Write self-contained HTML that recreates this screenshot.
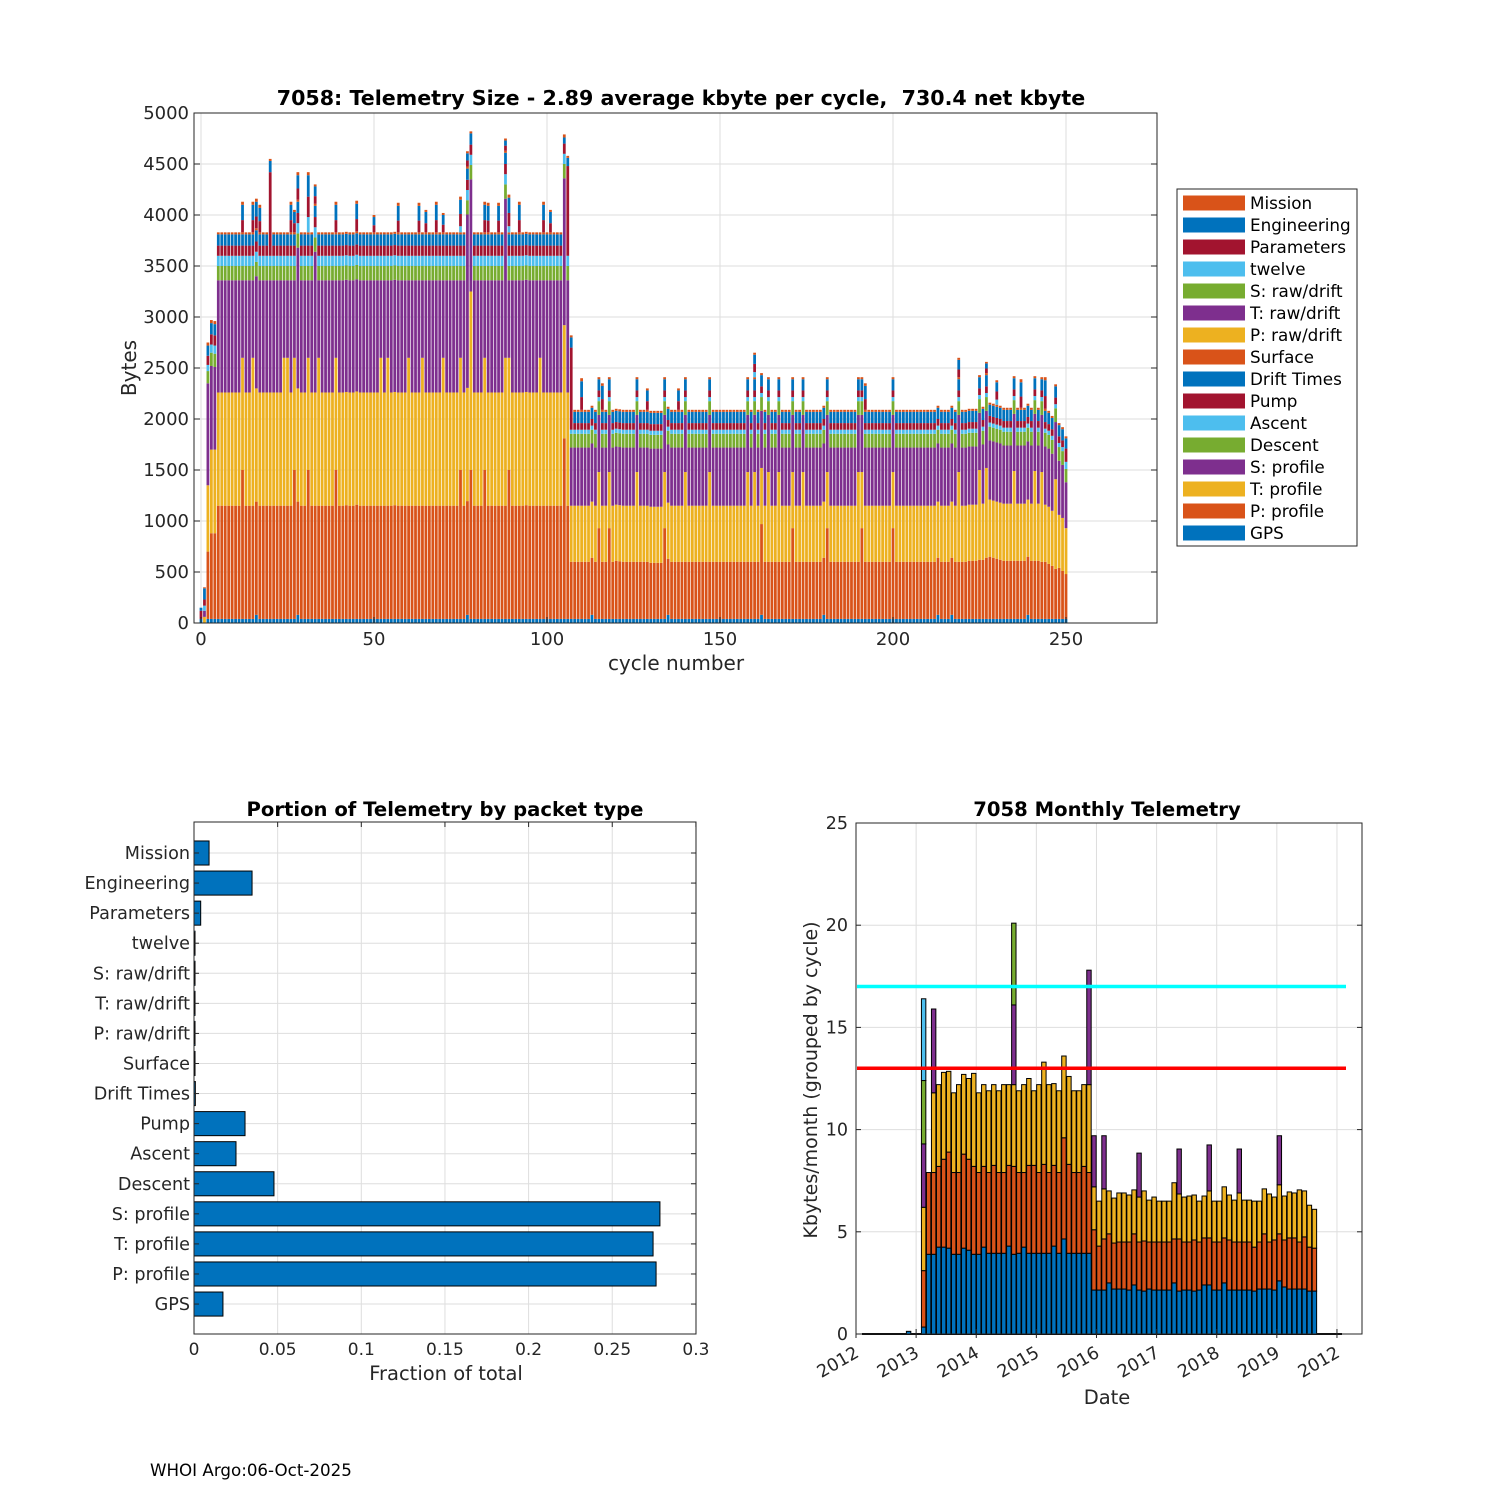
<!DOCTYPE html>
<html><head><meta charset="utf-8"><title>7058 Telemetry</title>
<style>
html,body{margin:0;padding:0;background:#fff;}
svg{display:block;font-family:"DejaVu Sans","Liberation Sans",sans-serif;}
</style></head>
<body>
<svg id="chart" width="1500" height="1500" viewBox="0 0 1500 1500" xmlns="http://www.w3.org/2000/svg">
<rect x="0" y="0" width="1500" height="1500" fill="#ffffff"/>
<text x="150" y="1476" font-size="16.7" fill="#000">WHOI Argo:06-Oct-2025</text>
</svg>
<script>
// ---------------- TOP CHART DATA (cycles 0..250) ----------------
const gpsB = [
40,0,40,40,40,40,40,40,40,40,
40,40,40,40,40,40,80,40,40,40,
40,40,40,40,40,40,40,40,80,40,
40,40,40,40,40,40,40,40,40,40,
40,40,40,40,40,40,40,40,40,40,
40,40,40,40,40,40,40,40,40,40,
40,40,40,40,40,40,40,40,40,40,
40,40,40,40,40,40,40,80,40,40,
40,40,40,40,40,40,40,40,40,40,
40,40,40,40,40,40,40,40,40,40,
40,40,40,40,40,40,40,40,40,40,
40,40,40,80,40,40,40,40,40,40,
40,40,40,40,40,40,40,40,40,40,
40,40,40,40,40,80,40,40,40,40,
40,40,40,40,40,40,40,40,40,40,
40,40,40,40,40,40,40,40,40,40,
40,40,80,40,40,40,40,40,40,40,
40,40,40,40,40,40,40,40,40,40,
80,40,40,40,40,40,40,40,40,40,
40,40,40,40,40,40,40,40,40,40,
40,40,40,40,40,40,40,40,40,40,
40,40,40,80,40,40,40,80,40,40,
40,40,40,40,40,40,40,40,40,40,
40,40,40,40,40,40,40,40,40,80,
40,40,40,40,40,40,40,40,40,40,
40];
const pProfB = [
0,0,660,840,840,1110,1110,1110,1110,1110,
1110,1110,1460,1110,1110,1110,1110,1110,1110,1110,
1110,1110,1110,1110,1110,1110,1110,1460,1110,1110,
1110,1460,1110,1110,1110,1110,1110,1110,1110,1460,
1110,1110,1115,1110,1110,1120,1110,1110,1110,1110,
1110,1110,1110,1110,1110,1110,1115,1110,1110,1110,
1110,1110,1110,1110,1110,1110,1110,1110,1110,1110,
1110,1110,1110,1110,1110,1460,1110,1115,1460,1110,
1110,1110,1460,1110,1110,1110,1110,1110,1110,1460,
1110,1110,1110,1110,1115,1110,1110,1110,1110,1110,
1110,1110,1110,1110,1110,1770,1110,560,560,560,
560,560,560,560,560,890,560,560,890,560,
570,565,560,560,560,560,560,560,560,560,
550,550,550,550,890,550,560,560,560,560,
560,560,560,560,560,560,560,560,560,560,
560,560,560,560,560,560,560,560,560,560,
560,560,890,560,560,560,560,560,560,560,
560,890,560,560,560,560,560,560,560,560,
560,890,560,560,560,560,560,560,560,560,
560,890,560,560,560,560,560,560,560,560,
890,560,560,560,560,560,560,560,560,560,
560,560,560,560,560,560,560,560,560,560,
560,560,570,570,570,580,580,600,610,600,
590,580,570,570,570,570,570,570,570,570,
570,570,570,560,560,540,520,490,500,470,
440];
const tProfB = [
0,60,650,820,820,1110,1110,1110,1110,1110,
1110,1110,1100,1110,1110,1450,1110,1110,1110,1110,
1110,1110,1110,1110,1450,1450,1110,1100,1110,1110,
1110,1100,1110,1110,1450,1110,1110,1110,1110,1100,
1110,1110,1110,1110,1110,1110,1110,1110,1110,1110,
1110,1110,1450,1110,1450,1110,1110,1110,1110,1110,
1450,1110,1110,1110,1450,1110,1110,1110,1110,1110,
1450,1110,1110,1110,1110,1100,1110,1110,1750,1110,
1110,1110,1100,1110,1110,1110,1110,1110,1450,1100,
1110,1110,1110,1110,1110,1110,1110,1110,1450,1110,
1110,1110,1110,1110,1110,1110,1110,550,550,550,
550,550,550,550,550,550,550,550,550,550,
550,550,550,550,550,550,880,550,550,550,
550,550,550,550,550,550,550,550,550,550,
880,550,550,550,550,550,550,880,550,550,
550,550,550,550,550,550,550,550,880,550,
880,550,550,550,880,550,550,880,550,550,
550,550,550,550,880,550,550,550,550,550,
550,550,550,550,550,550,550,550,550,550,
880,550,550,550,550,550,550,550,550,550,
550,550,550,550,550,550,550,550,550,550,
550,550,550,550,550,550,550,550,550,880,
550,550,550,550,550,880,550,880,560,560,
560,560,560,560,560,880,560,560,560,560,
560,880,560,880,560,560,540,880,520,520,
450];
const sProfB = [
0,60,1000,820,810,1100,1100,1100,1100,1100,
1100,1100,760,1100,1100,760,1100,1100,1100,1100,
1100,1100,1100,1100,760,760,1100,760,1380,1100,
1100,760,1100,1380,760,1100,1100,1100,1100,760,
1100,1100,1100,1100,1100,1100,1100,1100,1100,1100,
1100,1100,760,1100,760,1100,1100,1100,1100,1100,
760,1100,1100,1100,760,1100,1100,1100,1100,1100,
760,1100,1100,1100,1100,760,1100,1700,1100,1100,
1100,1100,760,1100,1100,1100,1100,1100,1560,760,
1100,1100,1100,1100,1100,1100,1100,1100,760,1100,
1100,1100,1100,1100,1100,1440,1100,570,570,570,
570,570,570,570,570,560,570,570,560,570,
570,570,570,570,570,570,560,570,570,570,
570,570,570,570,560,570,570,570,570,570,
560,570,570,570,570,570,570,560,570,570,
570,570,570,570,570,570,570,570,560,570,
560,570,560,570,560,570,570,560,570,570,
570,560,570,570,560,570,570,570,570,570,
570,560,570,570,570,570,570,570,570,570,
560,560,570,570,570,570,570,570,570,570,
560,570,570,570,570,570,570,570,570,570,
570,570,570,570,570,570,570,570,570,560,
570,570,570,570,570,560,580,560,580,580,
580,580,570,570,570,560,570,570,570,570,
570,560,570,560,570,570,560,560,530,520,
450];
const descentB = [
0,0,120,130,130,140,140,140,140,140,
140,140,140,140,140,140,140,140,140,140,
140,140,140,140,140,140,140,140,140,140,
140,140,140,140,140,140,140,140,140,140,
140,140,140,140,140,140,140,140,140,140,
140,140,140,140,140,140,140,140,140,140,
140,140,140,140,140,140,140,140,140,140,
140,140,140,140,140,140,140,140,140,140,
140,140,140,140,140,140,140,140,140,140,
140,140,140,140,140,140,140,140,140,140,
140,140,140,140,140,140,140,135,135,135,
135,135,135,135,135,135,135,135,135,135,
135,135,135,135,135,135,135,135,135,135,
135,135,135,135,135,135,135,135,135,135,
135,135,135,135,135,135,135,135,135,135,
135,135,135,135,135,135,135,135,135,135,
135,135,135,135,135,135,135,135,135,135,
135,135,135,135,135,135,135,135,135,135,
135,135,135,135,135,135,135,135,135,135,
135,135,135,135,135,135,135,135,135,135,
135,135,135,135,135,135,135,135,135,135,
135,135,135,135,135,135,135,135,135,135,
135,135,135,135,135,135,135,135,135,135,
135,135,135,135,135,135,135,135,135,135,
135,135,135,135,135,135,135,135,135,135,
130];
const ascentB = [
0,50,60,80,80,100,100,100,100,100,
100,100,100,100,100,100,100,100,100,100,
100,100,100,100,100,100,100,100,100,100,
100,100,100,100,100,100,100,100,100,100,
100,100,100,100,100,100,100,100,100,100,
100,100,100,100,100,100,100,100,100,100,
100,100,100,100,100,100,100,100,100,100,
100,100,100,100,100,100,100,100,100,100,
100,100,100,100,100,100,100,100,100,100,
100,100,100,100,100,100,100,100,100,100,
100,100,100,100,100,100,100,40,40,40,
40,40,40,40,40,40,40,40,40,40,
40,40,40,40,40,40,40,40,40,40,
40,40,40,40,40,40,40,40,40,40,
40,40,40,40,40,40,40,40,40,40,
40,40,40,40,40,40,40,40,40,40,
40,40,40,40,40,40,40,40,40,40,
40,40,40,40,40,40,40,40,40,40,
40,40,40,40,40,40,40,40,40,40,
40,40,40,40,40,40,40,40,40,40,
40,40,40,40,40,40,40,40,40,40,
40,40,40,40,40,40,40,40,40,40,
40,40,40,40,40,40,40,40,40,40,
40,40,40,40,40,40,40,40,40,40,
40,40,40,40,40,40,40,40,40,40,
70];
const pumpB = [
80,60,90,100,100,100,100,100,100,100,
100,100,100,100,100,100,100,100,100,100,
820,100,100,100,100,100,100,100,100,100,
100,100,100,100,100,100,100,100,100,100,
100,100,100,100,100,100,100,100,100,100,
100,100,100,100,100,100,100,100,100,100,
100,100,100,100,100,100,100,100,100,100,
100,100,100,100,100,100,100,100,100,100,
100,100,100,100,100,100,100,100,100,100,
100,100,100,100,100,100,100,100,100,100,
100,100,100,100,100,100,880,805,65,65,
65,65,65,65,65,65,65,65,65,65,
65,65,65,65,65,65,65,65,65,65,
65,65,65,65,65,65,65,65,65,65,
65,65,65,65,65,65,65,65,65,65,
65,65,65,65,65,65,65,65,65,65,
65,65,65,65,65,65,65,65,65,65,
65,65,65,65,65,65,65,65,65,65,
65,65,65,65,65,65,65,65,65,65,
65,65,65,65,65,65,65,65,65,65,
65,65,65,65,65,65,65,65,65,65,
65,65,65,65,65,65,65,65,65,65,
65,65,65,65,65,65,65,65,65,65,
65,65,65,65,65,65,65,65,65,65,
65,65,65,65,65,65,65,65,65,65,
130];
const driftB = [
30,110,100,110,110,110,110,110,110,110,
110,110,110,110,110,110,110,110,110,110,
110,110,110,110,110,110,110,110,110,110,
110,110,110,110,110,110,110,110,110,110,
110,110,110,110,110,110,110,110,110,110,
110,110,110,110,110,110,110,110,110,110,
110,110,110,110,110,110,110,110,110,110,
110,110,110,110,110,110,110,110,110,110,
110,110,110,110,110,110,110,110,110,110,
110,110,110,110,110,110,110,110,110,110,
110,110,110,110,110,60,80,100,110,110,
110,110,110,110,110,110,110,110,110,110,
110,110,110,110,110,110,110,110,110,110,
110,110,110,110,110,110,110,110,110,110,
110,110,110,110,110,110,110,110,110,110,
110,110,110,110,110,110,110,110,110,110,
110,110,110,110,110,110,110,110,110,110,
110,110,110,110,110,110,110,110,110,110,
110,110,110,110,110,110,110,110,110,110,
110,110,110,110,110,110,110,110,110,110,
110,110,110,110,110,110,110,110,110,110,
110,110,110,110,110,110,110,110,110,110,
110,110,110,110,110,110,110,110,110,110,
110,110,110,110,110,110,110,110,110,110,
110,110,110,110,110,110,110,110,110,110,
100];
const surfaceB = [
0,10,30,30,30,20,20,20,20,20,
20,20,20,20,20,20,20,20,20,20,
20,20,20,20,20,20,20,20,20,20,
20,20,20,20,20,20,20,20,20,20,
20,20,20,20,20,20,20,20,20,20,
20,20,20,20,20,20,20,20,20,20,
20,20,20,20,20,20,20,20,20,20,
20,20,20,20,20,20,20,20,20,20,
20,20,20,20,20,20,20,20,20,20,
20,20,20,20,20,20,20,20,20,20,
20,20,20,20,20,30,20,20,20,20,
20,20,20,20,20,20,20,20,20,20,
20,20,20,20,20,20,20,20,20,20,
20,20,20,20,20,20,20,20,20,20,
20,20,20,20,20,20,20,20,20,20,
20,20,20,20,20,20,20,20,20,20,
20,20,20,20,20,20,20,20,20,20,
20,20,20,20,20,20,20,20,20,20,
20,20,20,20,20,20,20,20,20,20,
20,20,20,20,20,20,20,20,20,20,
20,20,20,20,20,20,20,20,20,20,
20,20,20,20,20,20,20,20,20,20,
20,20,20,20,20,20,20,20,20,20,
20,20,20,20,20,20,20,20,20,20,
20,20,20,20,20,20,20,20,20,20,
20];
// extra packets on spike cycles
const spikeCycles  = [12,15,16,17,26,27,28,31,33,39,45,50,57,63,65,68,70,75,77,82,83,86,88,89,92,99,101, 110,116,129,138,160,192,219,227,230,237,244];
const spikeTwelve  = [0,0,0,0,0,0,0,150,0,0,0,0,0,0,0,0,0,60,0,0,0,0,0,60,0,0,0, 0,0,0,0,50,0,0,0,50,0,0];
const spikeParams  = [120,120,115,110,120,90,110,200,75,120,120,70,115,115,90,120,75,120,60,120,115,115,50,130,120,120,90, 125,105,85,85,80,105,75,45,80,110,125];
const spikeEng     = [150,150,145,130,150,110,130,210,95,150,150,80,145,145,110,150,95,140,70,150,145,145,50,150,150,150,110, 155,130,105,105,90,130,95,50,90,140,155];
const spikeMission = [30,30,30,30,30,20,30,30,20,30,30,20,30,30,20,30,20,30,20,30,30,30,20,30,30,30,20, 30,25,20,20,20,25,20,15,20,30,30];
const topYTicks = [0,500,1000,1500,2000,2500,3000,3500,4000,4500,5000];
const topXTicks = [0,50,100,150,200,250];
const legendLabels = ["Mission","Engineering","Parameters","twelve","S: raw/drift","T: raw/drift","P: raw/drift","Surface","Drift Times","Pump","Ascent","Descent","S: profile","T: profile","P: profile","GPS"];

// ---------------- BOTTOM LEFT DATA ----------------
const portionCats = ["Mission","Engineering","Parameters","twelve","S: raw/drift","T: raw/drift","P: raw/drift","Surface","Drift Times","Pump","Ascent","Descent","S: profile","T: profile","P: profile","GPS"];
const portionVals = [0.009,0.0347,0.004,0.0006,0.0006,0.0006,0.0006,0.0006,0.0008,0.0305,0.0251,0.0478,0.2785,0.2744,0.2762,0.0173];
const portionTicks = [0,0.05,0.1,0.15,0.2,0.25,0.3];

// ---------------- BOTTOM RIGHT DATA (months since Jan 2012) ----------------
const mMonth = [10,13,14,15,16,17,18,19,20,21,22,23,24,25,26,27,28,29,30,31,32,33,34,35,36,37,38,39,40,41,42,43,44,45,46,47,48,49,50,51,52,53,54,55,56,57,58,59,60,61,62,63,64,65,66,67,68,69,70,71,72,73,74,75,76,77,78,79,80,81,82,83,84,85,86,87,88,89,90,91];
const mBlue   = [0.13,0.34,3.9,3.9,4.25,4.25,4.2,3.9,3.9,4.2,4.1,3.9,3.9,4.25,3.95,3.95,3.95,3.95,4.3,3.9,3.95,4.25,3.95,3.95,3.95,3.95,3.95,4.3,3.95,4.65,3.95,3.95,3.95,3.95,3.95,2.15,2.15,2.15,2.5,2.2,2.2,2.2,2.15,2.4,2.15,2.1,2.2,2.15,2.15,2.15,2.15,2.5,2.1,2.15,2.15,2.1,2.15,2.4,2.4,2.15,2.15,2.5,2.15,2.15,2.15,2.15,2.15,2.1,2.2,2.2,2.2,2.15,2.6,2.3,2.2,2.2,2.2,2.2,2.1,2.1];
const mOrange = [0,2.76,4.0,4.0,3.95,4.3,4.7,4.0,4.0,4.6,4.45,4.3,4.0,3.95,3.95,4.3,3.95,3.95,3.95,4.3,3.95,3.65,4.3,4.3,3.95,4.35,3.95,3.95,3.95,4.95,4.35,3.95,3.95,4.25,3.95,2.95,2.15,2.5,2.4,2.25,2.3,2.3,2.35,2.5,2.35,2.45,2.3,2.35,2.35,2.35,2.35,2.15,2.55,2.35,2.35,2.5,2.35,2.3,2.3,2.35,2.35,2.2,2.45,2.35,2.35,2.35,2.35,2.15,2.3,2.7,2.3,2.45,2.3,2.3,2.5,2.5,2.3,2.55,2.15,2.1];
const mYellow = [0,3.1,0,3.9,4.0,4.25,3.95,3.9,4.3,3.9,3.95,4.55,3.9,4.0,4.0,3.95,4.0,4.3,3.95,4.0,4.0,4.3,4.25,3.65,4.3,5.0,4.3,4.0,4.0,4.0,4.3,4.0,4.0,4.0,4.3,2.1,2.2,2.45,2.1,2.2,2.4,2.4,2.3,2.15,2.2,2.45,2.05,2.2,2.0,2.0,2.0,2.75,2.2,2.2,2.25,2.2,2.0,2.05,2.3,2.0,2.0,2.5,2.2,2.05,2.4,2.05,2.05,2.25,2.0,2.2,2.35,2.1,2.4,2.15,2.25,2.2,2.55,2.25,2.05,1.9];
const mPurple = [0,3.1,0,4.1,0,0,0,0,0,0,0,0,0,0,0,0,0,0,0,3.9,0,0,0,0,0,0,0,0,0,0,0,0,0,0,5.6,2.5,0,2.6,0,0,0,0,0,0,2.15,0,0,0,0,0,0,0,2.2,0,0,0,0,0,2.25,0,0,0,0,0,2.15,0,0,0,0,0,0,0,2.4,0,0,0,0,0,0,0];
const mGreen  = [0,3.1,0,0,0,0,0,0,0,0,0,0,0,0,0,0,0,0,0,4.0,0,0,0,0,0,0,0,0,0,0,0,0,0,0,0,0,0,0,0,0,0,0,0,0,0,0,0,0,0,0,0,0,0,0,0,0,0,0,0,0,0,0,0,0,0,0,0,0,0,0,0,0,0,0,0,0,0,0,0,0];
const mLightBlue = [0,4.0,0,0,0,0,0,0,0,0,0,0,0,0,0,0,0,0,0,0,0,0,0,0,0,0,0,0,0,0,0,0,0,0,0,0,0,0,0,0,0,0,0,0,0,0,0,0,0,0,0,0,0,0,0,0,0,0,0,0,0,0,0,0,0,0,0,0,0,0,0,0,0,0,0,0,0,0,0,0];
const mYTicks = [0,5,10,15,20,25];
const mXLabels = ["2012","2013","2014","2015","2016","2017","2018","2019","2012"];
const mXTickMonths = [0,12,24,36,48,60,72,84,96];
const limitHigh = 17;
const limitLow = 13;

// ---------------- helpers ----------------
const NS = "http://www.w3.org/2000/svg";
const svg = document.getElementById("chart");
function mk(tag, attrs, parent){
  const e = document.createElementNS(NS, tag);
  for (const k in attrs) e.setAttribute(k, attrs[k]);
  (parent || svg).appendChild(e);
  return e;
}
const C = {blue:"#0072BD", orange:"#D95319", yellow:"#EDB120", purple:"#7E2F8E", green:"#77AC30", lblue:"#4DBEEE", red:"#A2142F"};
const AX = "#262626", GRID = "#dedede";

// =============== TOP CHART ===============
const T = {l:194, r:1157, t:113, b:623, x0:201, px:3.46, py:0.102};
const xT = c => T.x0 + c * T.px;
const yT = v => T.b - v * T.py;
const gTop = mk("g", {});


for (const v of topYTicks) {
  const gl = mk("line", {x1:T.l, x2:T.r, y1:yT(v), y2:yT(v), stroke:GRID, "stroke-width":1}, gTop);
  
  
}
for (const v of topXTicks) {
  const gl = mk("line", {x1:xT(v), x2:xT(v), y1:T.t, y2:T.b, stroke:GRID, "stroke-width":1}, gTop);
  
  
}
const stackSeries = [
  [gpsB, C.blue, "gps"], [pProfB, C.orange, "p-profile"], [tProfB, C.yellow, "t-profile"], [sProfB, C.purple, "s-profile"],
  [descentB, C.green, "descent"], [ascentB, C.lblue, "ascent"], [pumpB, C.red, "pump"], [driftB, C.blue, "drift-times"], [surfaceB, C.orange, "surface"]
];
const cycleTop = [];
const bw = T.px * 0.8;
for (let c = 0; c < gpsB.length; c++) {
  let base = 0;
  for (const [arr, col, nm] of stackSeries) {
    const v = arr[c];
    if (v > 0) {
      const r = mk("rect", {x:xT(c)-bw/2, y:yT(base+v), width:bw, height:v*T.py, fill:col}, gTop);
      
      
    }
    base += v;
  }
  cycleTop.push(base);
}
const spikeStack = [[spikeTwelve, C.lblue, "twelve"], [spikeParams, C.red, "parameters"], [spikeEng, C.blue, "engineering"], [spikeMission, C.orange, "mission"]];
for (let j = 0; j < spikeCycles.length; j++) {
  const c = spikeCycles[j];
  let base = cycleTop[c];
  for (const [arr, col, nm] of spikeStack) {
    const v = arr[j];
    if (v > 0) {
      const r = mk("rect", {x:xT(c)-bw/2, y:yT(base+v), width:bw, height:v*T.py, fill:col}, gTop);
      
      
    }
    base += v;
  }
}
const topBox = mk("rect", {x:T.l, y:T.t, width:T.r-T.l, height:T.b-T.t, fill:"none", stroke:AX, "stroke-width":1}, gTop);


for (const v of topYTicks) {
  const tk = mk("line", {x1:T.l, x2:T.l+6, y1:yT(v), y2:yT(v), stroke:AX}, gTop);
  
  
  const tk2 = mk("line", {x1:T.r-6, x2:T.r, y1:yT(v), y2:yT(v), stroke:AX}, gTop);
  
  
  const tl = mk("text", {x:T.l-5, y:yT(v)+6, "text-anchor":"end", "font-size":18, fill:AX}, gTop);
  tl.textContent = v;
  
  
}
for (const v of topXTicks) {
  const tk = mk("line", {x1:xT(v), x2:xT(v), y1:T.b-6, y2:T.b, stroke:AX}, gTop);
  
  
  const tl = mk("text", {x:xT(v), y:T.b+22, "text-anchor":"middle", "font-size":18, fill:AX}, gTop);
  tl.textContent = v;
  
  
}
const tt = mk("text", {x:681, y:105, "text-anchor":"middle", "font-size":20.6, "font-weight":"bold", fill:"#000"}, gTop);
tt.textContent = "7058: Telemetry Size - 2.89 average kbyte per cycle,  730.4 net kbyte";


tt.style.whiteSpace = "pre";
const tyl = mk("text", {x:0, y:0, "text-anchor":"middle", "font-size":20, fill:AX, transform:"translate(136,368) rotate(-90)"}, gTop);
tyl.textContent = "Bytes";


const txl = mk("text", {x:676, y:670, "text-anchor":"middle", "font-size":20, fill:AX}, gTop);
txl.textContent = "cycle number";


// legend
const legendColors = [C.orange, C.blue, C.red, C.lblue, C.green, C.purple, C.yellow, C.orange, C.blue, C.red, C.lblue, C.green, C.purple, C.yellow, C.orange, C.blue];
const gLeg = mk("g", {});


const lb = mk("rect", {x:1177, y:189, width:180, height:357, fill:"#fff", stroke:AX, "stroke-width":1}, gLeg);


for (let i = 0; i < legendLabels.length; i++) {
  const cy = 203 + i * 22;
  const g = mk("g", {}, gLeg);
  
  
  const sw = mk("rect", {x:1183, y:cy-7.5, width:62, height:15, fill:legendColors[i]}, g);
  
  
  const lt = mk("text", {x:1250, y:cy+6, "font-size":16.8, fill:"#000"}, g);
  lt.textContent = legendLabels[i];
  
  
}

// =============== BOTTOM LEFT ===============
const B = {l:194, r:696, t:822, b:1334, y0:853, step:30.07, px:1673};
const xB = v => B.l + v * B.px;
const yB = i => B.y0 + i * B.step;
const gBL = mk("g", {});


for (const v of portionTicks) {
  const gl = mk("line", {x1:xB(v), x2:xB(v), y1:B.t, y2:B.b, stroke:GRID}, gBL);
  
  
}
for (let i = 0; i < portionCats.length; i++) {
  const gl = mk("line", {x1:B.l, x2:B.r, y1:yB(i), y2:yB(i), stroke:GRID}, gBL);
  
  
}
for (let i = 0; i < portionCats.length; i++) {
  const h = B.step * 0.8;
  const r = mk("rect", {x:B.l, y:yB(i)-h/2, width:Math.max(portionVals[i]*B.px, 0.5), height:h, fill:C.blue, stroke:"#000", "stroke-width":1}, gBL);
  
  
  const tk = mk("line", {x1:B.l, x2:B.l+5, y1:yB(i), y2:yB(i), stroke:AX}, gBL);
  
  
  const tk2 = mk("line", {x1:B.r-5, x2:B.r, y1:yB(i), y2:yB(i), stroke:AX}, gBL);
  
  
  const tl = mk("text", {x:B.l-4, y:yB(i)+6, "text-anchor":"end", "font-size":17.6, fill:AX}, gBL);
  tl.textContent = portionCats[i];
  
  
}
const blBox = mk("rect", {x:B.l, y:B.t, width:B.r-B.l, height:B.b-B.t, fill:"none", stroke:AX}, gBL);


for (const v of portionTicks) {
  const tk = mk("line", {x1:xB(v), x2:xB(v), y1:B.t, y2:B.t+5, stroke:AX}, gBL);
  
  
  const tl = mk("text", {x:xB(v), y:B.b+21, "text-anchor":"middle", "font-size":17, fill:AX}, gBL);
  tl.textContent = v;
  
  
}
const blT = mk("text", {x:445, y:816, "text-anchor":"middle", "font-size":19.6, "font-weight":"bold", fill:"#000"}, gBL);
blT.textContent = "Portion of Telemetry by packet type";


const blX = mk("text", {x:446, y:1380, "text-anchor":"middle", "font-size":19.5, fill:AX}, gBL);
blX.textContent = "Fraction of total";



// =============== BOTTOM RIGHT ===============
const M = {l:856, r:1362, t:823, b:1334, pm:5.01, py:20.44};
const xM = m => M.l + m * M.pm;
const yM = v => M.b - v * M.py;
const gBR = mk("g", {});


for (const v of mYTicks) {
  const gl = mk("line", {x1:M.l, x2:M.r, y1:yM(v), y2:yM(v), stroke:GRID}, gBR);
  
  
}
for (const m of mXTickMonths) {
  const gl = mk("line", {x1:xM(m), x2:xM(m), y1:M.t, y2:M.b, stroke:GRID}, gBR);
  
  
}
const zl = mk("line", {x1:862, x2:1342, y1:M.b, y2:M.b, stroke:"#000", "stroke-width":2}, gBR);


const mSeries = [[mBlue, C.blue, "blue"], [mOrange, C.orange, "orange"], [mYellow, C.yellow, "yellow"], [mPurple, C.purple, "purple"], [mGreen, C.green, "green"], [mLightBlue, C.lblue, "lightblue"]];
for (let i = 0; i < mMonth.length; i++) {
  let base = 0;
  const x = xM(mMonth[i]) + 0.3;
  for (const [arr, col, nm] of mSeries) {
    const v = arr[i];
    if (v > 0) {
      const r = mk("rect", {x:x, y:yM(base+v), width:M.pm-0.6, height:v*M.py, fill:col, stroke:"#000", "stroke-width":1}, gBR);
      
      
    }
    base += v;
  }
}
const cy1 = mk("line", {x1:857, x2:1346, y1:yM(limitHigh), y2:yM(limitHigh), stroke:"#00ffff", "stroke-width":3.5}, gBR);


const rd1 = mk("line", {x1:857, x2:1346, y1:yM(limitLow), y2:yM(limitLow), stroke:"#ff0000", "stroke-width":3.5}, gBR);


const brBox = mk("rect", {x:M.l, y:M.t, width:M.r-M.l, height:M.b-M.t, fill:"none", stroke:AX}, gBR);


for (const v of mYTicks) {
  const tk = mk("line", {x1:M.l, x2:M.l+5, y1:yM(v), y2:yM(v), stroke:AX}, gBR);
  
  
  const tk2 = mk("line", {x1:M.r-5, x2:M.r, y1:yM(v), y2:yM(v), stroke:AX}, gBR);
  
  
  const tl = mk("text", {x:M.l-8, y:yM(v)+6, "text-anchor":"end", "font-size":17.5, fill:AX}, gBR);
  tl.textContent = v;
  
  
}
for (let k = 0; k < mXTickMonths.length; k++) {
  const x = xM(mXTickMonths[k]);
  const tk = mk("line", {x1:x, x2:x, y1:M.b-5, y2:M.b+4, stroke:AX}, gBR);
  
  
  const tl = mk("text", {x:0, y:0, "text-anchor":"end", "font-size":17.5, fill:AX, transform:"translate(" + (x+4) + "," + (M.b+22) + ") rotate(-30)"}, gBR);
  tl.textContent = mXLabels[k];
  
  
}
const brT = mk("text", {x:1107, y:816, "text-anchor":"middle", "font-size":19.6, "font-weight":"bold", fill:"#000"}, gBR);
brT.textContent = "7058 Monthly Telemetry";


const brX = mk("text", {x:1107, y:1404, "text-anchor":"middle", "font-size":19.5, fill:AX}, gBR);
brX.textContent = "Date";


const brY = mk("text", {x:0, y:0, "text-anchor":"middle", "font-size":19, fill:AX, transform:"translate(817,1080) rotate(-90)"}, gBR);
brY.textContent = "Kbytes/month (grouped by cycle)";


</script>
</body></html>
